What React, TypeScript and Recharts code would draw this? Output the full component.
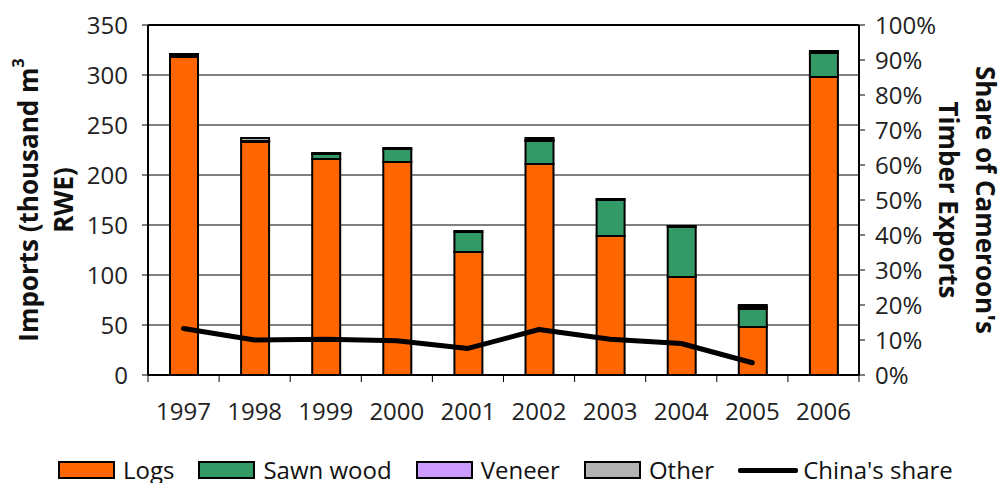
import React from "react"
import {
  ComposedChart,
  Bar,
  Line,
  XAxis,
  YAxis,
  CartesianGrid,
  ReferenceLine,
} from "recharts"

const years = ["1997", "1998", "1999", "2000", "2001", "2002", "2003", "2004", "2005", "2006"]
const logs = [318, 233, 216, 213, 123, 211, 139, 98, 48, 298]
const sawnWood = [1, 1, 5, 13, 20, 23, 36, 50, 18, 24]
const veneer = [0, 0, 0, 0, 0, 1, 0, 0, 2, 0]
const other = [2, 3, 1, 1, 1, 2, 1, 1, 2, 2]
const chinaShare: (number | null)[] = [13.3, 10.0, 10.2, 9.8, 7.6, 13.0, 10.2, 9.0, 3.5, null]

const leftTicks = [0, 50, 100, 150, 200, 250, 300, 350]
const rightTicks = [0, 10, 20, 30, 40, 50, 60, 70, 80, 90, 100]

const series = [
  { key: "logs", name: "Logs", color: "#FF6600", kind: "bar" },
  { key: "sawn", name: "Sawn wood", color: "#339966", kind: "bar" },
  { key: "veneer", name: "Veneer", color: "#CC99FF", kind: "bar" },
  { key: "other", name: "Other", color: "#B2B2B2", kind: "bar" },
  { key: "share", name: "China's share", color: "#000000", kind: "line" },
]

const data = years.map((year, i) => ({
  year,
  logs: logs[i],
  sawn: sawnWood[i],
  veneer: veneer[i],
  other: other[i],
  share: chinaShare[i],
}))

const FONT = "'Open Sans', sans-serif"
const LEFT_W = 148
const RIGHT_W = 141
const CHART_W = 1000
const CHART_H = 483
const BAND = (CHART_W - LEFT_W - RIGHT_W) / years.length

function YearTick(props: any) {
  const { x, y, payload, index } = props
  const half = BAND / 2
  const last = index === years.length - 1
  return (
    <g>
      <line x1={x - half} x2={x - half} y1={y} y2={y + 7} stroke="#000" strokeWidth={1} />
      {last && <line x1={x + half} x2={x + half} y1={y} y2={y + 7} stroke="#000" strokeWidth={1} />}
      <text x={x} y={y + 45} textAnchor="middle" fontSize={24} fill="#222" fontFamily={FONT}>
        {payload.value}
      </text>
    </g>
  )
}

function LeftTitle(props: any) {
  const vb = props.viewBox || { x: 0, y: 25, width: 148, height: 350 }
  const cy = vb.y + vb.height / 2
  const x1 = vb.x + 28
  const x2 = vb.x + 63
  return (
    <g fontFamily={FONT} fontWeight={700} fontSize={26} fill="#111">
      <text x={x1} y={cy} textAnchor="middle" dominantBaseline="central" transform={`rotate(-90, ${x1}, ${cy})`}>
        Imports (thousand m<tspan fontSize={16} dy={-10}>3</tspan>
      </text>
      <text x={x2} y={cy} textAnchor="middle" dominantBaseline="central" transform={`rotate(-90, ${x2}, ${cy})`}>
        RWE)
      </text>
    </g>
  )
}

function RightTitle(props: any) {
  const vb = props.viewBox || { x: 859, y: 25, width: 141, height: 350 }
  const cy = vb.y + vb.height / 2
  const x1 = vb.x + 127
  const x2 = vb.x + 90
  return (
    <g fontFamily={FONT} fontWeight={700} fontSize={26} fill="#111">
      <text x={x1} y={cy} textAnchor="middle" dominantBaseline="central" transform={`rotate(90, ${x1}, ${cy})`}>
        Share of Cameroon's
      </text>
      <text x={x2} y={cy} textAnchor="middle" dominantBaseline="central" transform={`rotate(90, ${x2}, ${cy})`}>
        Timber Exports
      </text>
    </g>
  )
}

function LegendRow() {
  return (
    <div
      style={{
        position: "absolute",
        left: 58,
        top: 456,
        display: "flex",
        alignItems: "center",
        fontFamily: FONT,
        fontSize: 24,
        color: "#111",
        lineHeight: "28px",
        whiteSpace: "nowrap",
      }}
    >
      {series.map((s) => (
        <div key={s.key} style={{ display: "flex", alignItems: "center", marginRight: 24 }}>
          {s.kind === "bar" ? (
            <span
              style={{
                display: "inline-block",
                width: 53,
                height: 14,
                background: s.color,
                border: "2px solid #000",
                marginRight: 8,
              }}
            />
          ) : (
            <span
              style={{
                display: "inline-block",
                width: 60,
                height: 5,
                background: s.color,
                borderRadius: 2,
                marginRight: 5,
              }}
            />
          )}
          <span>{s.name}</span>
        </div>
      ))}
    </div>
  )
}

export default function App() {
  return (
    <div
      style={{
        position: "absolute",
        left: 0,
        top: 0,
        width: CHART_W,
        height: CHART_H,
        background: "#fff",
        overflow: "hidden",
      }}
    >
      <ComposedChart
        width={CHART_W}
        height={CHART_H}
        data={data}
        margin={{ top: 25, right: 0, bottom: 0, left: 0 }}
        barSize={28}
        style={{ fontFamily: FONT }}
      >
        <CartesianGrid yAxisId="left" vertical={false} stroke="#000" strokeWidth={1} />
        <XAxis
          dataKey="year"
          height={CHART_H - 375}
          interval={0}
          tickLine={false}
          tickSize={0}
          tickMargin={0}
          axisLine={{ stroke: "#000", strokeWidth: 2 }}
          tick={<YearTick />}
        />
        <YAxis
          yAxisId="left"
          orientation="left"
          width={LEFT_W}
          domain={[0, 350]}
          ticks={leftTicks}
          interval={0}
          tickSize={6}
          tickMargin={14}
          tick={{ fontSize: 24, fill: "#222" }}
          tickLine={{ stroke: "#000" }}
          axisLine={{ stroke: "#000", strokeWidth: 2 }}
          label={{ content: <LeftTitle /> }}
        />
        <YAxis
          yAxisId="right"
          orientation="right"
          width={RIGHT_W}
          domain={[0, 100]}
          ticks={rightTicks}
          interval={0}
          tickSize={6}
          tickMargin={10}
          tickFormatter={(v: number) => `${v}%`}
          tick={{ fontSize: 24, fill: "#222" }}
          tickLine={{ stroke: "#000" }}
          axisLine={{ stroke: "#000", strokeWidth: 2 }}
          label={{ content: <RightTitle /> }}
        />
        <ReferenceLine yAxisId="left" y={350} stroke="#000" strokeWidth={2} />
        {series
          .filter((s) => s.kind === "bar")
          .map((s) => (
            <Bar
              key={s.key}
              yAxisId="left"
              dataKey={s.key}
              name={s.name}
              stackId="imports"
              fill={s.color}
              stroke="#000"
              strokeWidth={2}
              isAnimationActive={false}
            />
          ))}
        <Line
          yAxisId="right"
          type="linear"
          dataKey="share"
          name="China's share"
          stroke="#000"
          strokeWidth={5}
          strokeLinecap="round"
          strokeLinejoin="round"
          dot={false}
          activeDot={false}
          connectNulls={false}
          isAnimationActive={false}
        />
      </ComposedChart>
      <LegendRow />
    </div>
  )
}
